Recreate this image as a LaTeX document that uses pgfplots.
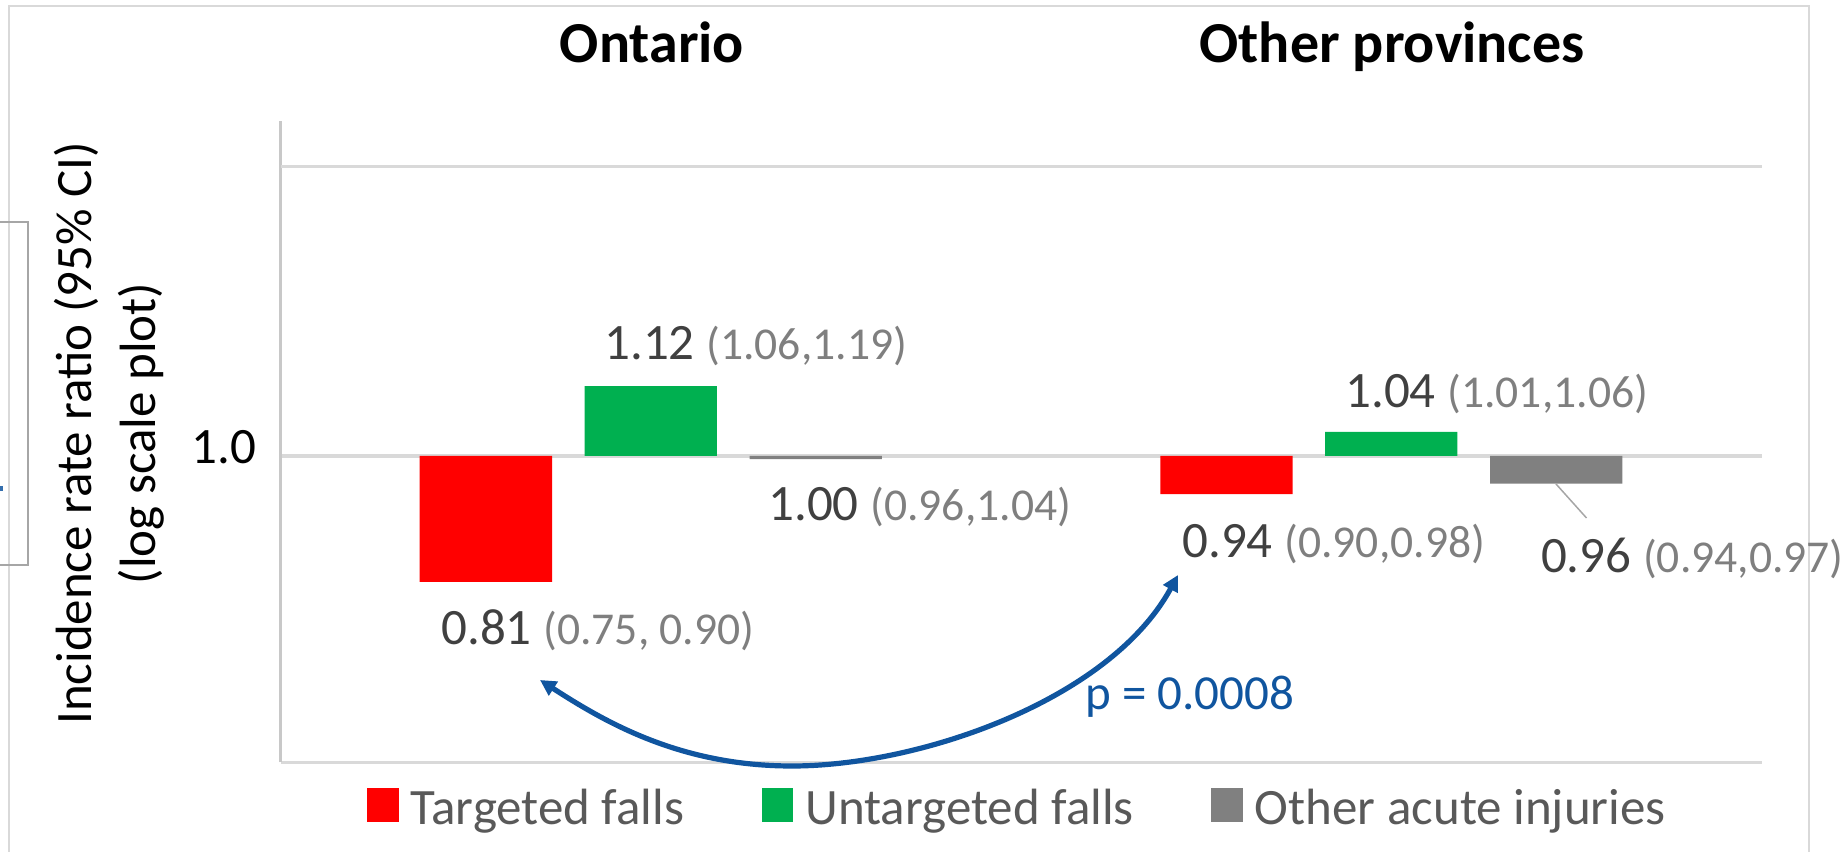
\documentclass[border=0pt]{standalone}
\usepackage{pgfplots}
\pgfplotsset{compat=1.18}
\usepackage{fontspec}
\setmainfont{Carlito}
\usetikzlibrary{arrows.meta}
\definecolor{cred}{HTML}{FF0000}
\definecolor{cgreen}{HTML}{00B050}
\definecolor{cgray}{HTML}{808080}
\definecolor{gridc}{HTML}{D9D9D9}
\definecolor{axisc}{HTML}{C8C8C8}
\definecolor{boxc}{HTML}{A6A6A6}
\definecolor{maintxt}{HTML}{404040}
\definecolor{citxt}{HTML}{7F7F7F}
\definecolor{legtxt}{HTML}{595959}
\definecolor{pblue}{HTML}{10559F}
\begin{document}
\begin{tikzpicture}
\useasboundingbox (0,0) rectangle (923pt,425.5pt);
\begin{axis}[
  at={(140.25pt,44.35pt)}, anchor=south west,
  scale only axis, width=740.55pt, height=320.8pt,
  ymode=log, log basis y=10,
  ymin=0.608, ymax=1.724,
  xmin=-0.5, xmax=1.5,
  ybar, bar width=66.15pt,
  log origin y=0,
  clip=false,
  axis x line*=bottom, axis y line*=left,
  axis line style={-, line width=1.5pt, color=gridc},
  y axis line style={color=axisc},
  xtick=\empty,
  ytick={1}, yticklabels={1.0},
  minor y tick num=0,
  extra y ticks={1.6}, extra y tick labels={},
  ymajorgrids, grid style={line width=2pt, color=gridc},
  extra y tick style={grid style={line width=1.35pt, color=gridc}},
  major tick length=0pt, minor tick length=0pt,
  yticklabel style={anchor=base east, inner sep=0pt, xshift=-12pt, yshift=-3.65pt, font=\fontsize{25.5}{30}\selectfont, text=black},
  sqleg/.style={legend image code/.code={\fill[##1] (0pt,-6.9pt) rectangle (15.8pt,10.1pt);}},
  legend columns=3,
  legend cell align=left,
  legend style={at={(0.0584,0)}, anchor=north west, yshift=-12.65pt,
    draw=none, fill=none, inner sep=0pt, outer sep=0pt,
    font=\fontsize{25.5}{30}\selectfont, text=legtxt,
    nodes={inner sep=0pt},
    /tikz/every odd column/.style={column sep=6pt},
    /tikz/every even column/.style={column sep=38.8pt}},
]
\addplot[fill=cred, draw=none, bar shift=-82.45pt, sqleg] coordinates {(0,0.815) (1,0.94)};
\addlegendentry{Targeted falls}
\addplot[fill=cgreen, draw=none, bar shift=0pt, sqleg] coordinates {(0,1.12) (1,1.04)};
\addlegendentry{Untargeted falls}
\addplot[fill=cgray, draw=none, bar shift=82.45pt, sqleg] coordinates {(0,0.995) (1,0.956)};
\addlegendentry{Other acute injuries}
\end{axis}
\begin{scope}[x=0.5pt, y=-0.5pt, shift={(0pt,425.5pt)}]
  % outer frame
  \draw[gridc, line width=1.2pt] (9,870) -- (9,6) -- (1809,6) -- (1809,870);
  % partial box at the left edge
  \draw[boxc, line width=0.6pt] (-5,222) -- (28,222) -- (28,565) -- (-5,565);
  \fill[pblue!85] (0,486) rectangle (3,491);
  % titles
  \node[anchor=base, inner sep=0pt, font=\fontsize{29}{34}\selectfont\bfseries] at (652,63) {Ontario};
  \node[anchor=base, inner sep=0pt, font=\fontsize{29}{34}\selectfont\bfseries] at (1392,63) {Other provinces};
  % y label
  \node[rotate=90, anchor=base, inner sep=0pt, font=\fontsize{25.5}{31}\selectfont] at (91.7,433.5) {Incidence rate ratio (95\% CI)};
  \node[rotate=90, anchor=base, inner sep=0pt, font=\fontsize{25.5}{31}\selectfont] at (155,433.5) {(log scale plot)};
  % data labels
  \node[anchor=base west, inner sep=0pt] at (441,645) {\fontsize{25.5}{30}\selectfont\color{maintxt}0.81 {\fontsize{22.8}{27}\selectfont\color{citxt}(0.75, 0.90)}};
  \node[anchor=base west, inner sep=0pt] at (604,360) {\fontsize{25.5}{30}\selectfont\color{maintxt}1.12 {\fontsize{22.8}{27}\selectfont\color{citxt}(1.06,1.19)}};
  \node[anchor=base west, inner sep=0pt] at (768,521) {\fontsize{25.5}{30}\selectfont\color{maintxt}1.00 {\fontsize{22.8}{27}\selectfont\color{citxt}(0.96,1.04)}};
  \node[anchor=base west, inner sep=0pt] at (1182,558) {\fontsize{25.5}{30}\selectfont\color{maintxt}0.94 {\fontsize{22.8}{27}\selectfont\color{citxt}(0.90,0.98)}};
  \node[anchor=base west, inner sep=0pt] at (1345,408) {\fontsize{25.5}{30}\selectfont\color{maintxt}1.04 {\fontsize{22.8}{27}\selectfont\color{citxt}(1.01,1.06)}};
  \node[anchor=base west, inner sep=0pt] at (1540.7,573) {\fontsize{25.5}{30}\selectfont\color{maintxt}0.96 {\fontsize{22.8}{27}\selectfont\color{citxt}(0.94,0.97)}};
  % leader line
  \draw[boxc, line width=0.75pt] (1556,484) -- (1586.5,518);
  % p-value arrow
  \draw[pblue, line width=2.6pt, {Triangle[length=8pt,width=8pt]}-{Triangle[length=8pt,width=8pt]}]
    (540,680) .. controls (605,722) and (680,766) .. (792,766)
    .. controls (920,766) and (1110,700) .. (1178,575);
  \node[anchor=base west, inner sep=0pt, text=pblue, font=\fontsize{24.5}{29}\selectfont] at (1085,710) {p = 0.0008};
\end{scope}
\end{tikzpicture}
\end{document}
